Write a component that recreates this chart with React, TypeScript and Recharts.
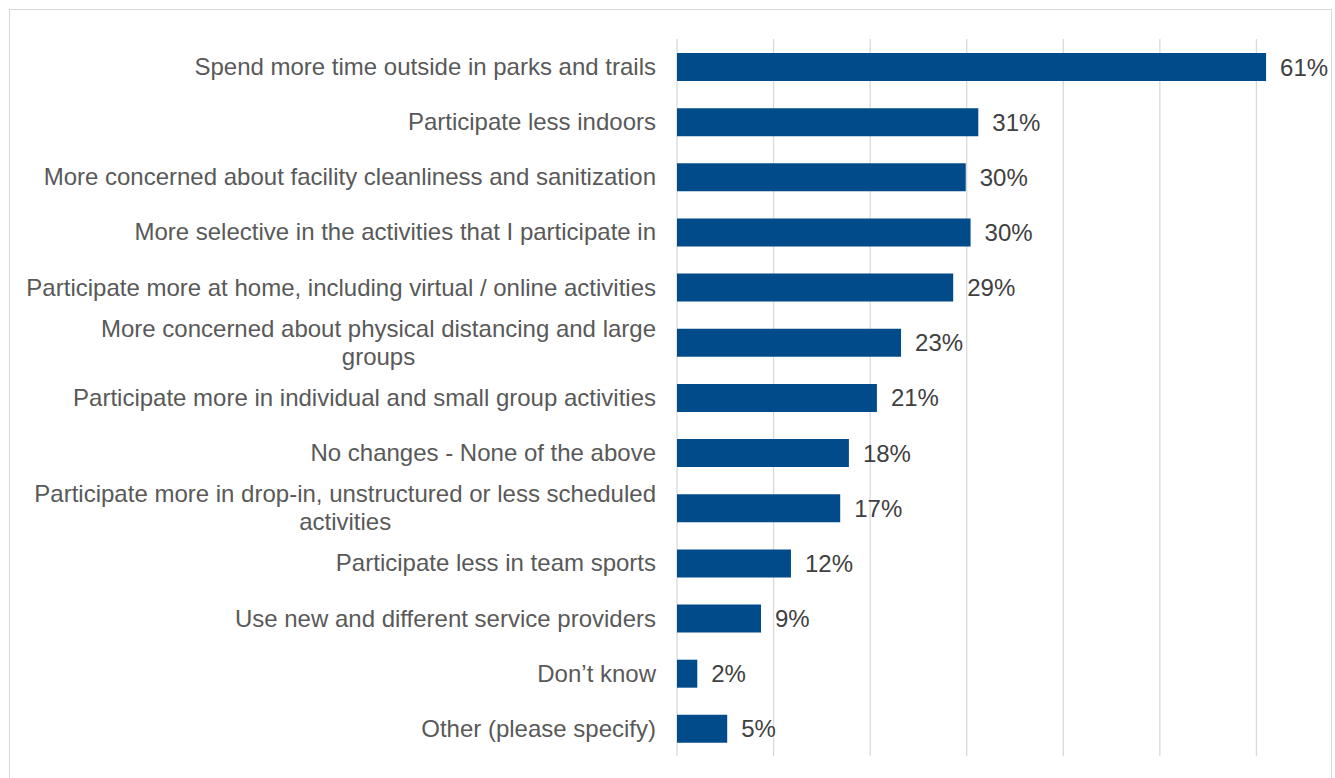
import { BarChart, Bar, XAxis, YAxis, CartesianGrid, LabelList } from 'recharts';

// survey answers, top to bottom
const categories = [
  'Spend more time outside in parks and trails',
  'Participate less indoors',
  'More concerned about facility cleanliness and sanitization',
  'More selective in the activities that I participate in',
  'Participate more at home, including virtual / online activities',
  'More concerned about physical distancing and large\ngroups',
  'Participate more in individual and small group activities',
  'No changes - None of the above',
  'Participate more in drop-in, unstructured or less scheduled\nactivities',
  'Participate less in team sports',
  'Use new and different service providers',
  'Don\u2019t know',
  'Other (please specify)',
];

// share of respondents (%)
const shares = [61.0, 31.2, 29.9, 30.4, 28.6, 23.2, 20.7, 17.8, 16.9, 11.8, 8.7, 2.1, 5.2];

const xTicks = [0, 10, 20, 30, 40, 50, 60, 70];

const FONT = '24px "Liberation Sans", Arial, sans-serif';

const chartData = categories.map((name, i) => ({ name, value: shares[i] }));

let ctx: CanvasRenderingContext2D | null = null;
function textWidth(s: string) {
  if (!ctx) ctx = document.createElement('canvas').getContext('2d');
  if (!ctx) return s.length * 11;
  ctx.font = FONT;
  return ctx.measureText(s).width;
}

// multi-line labels are centred on the widest line, block right-aligned
const CategoryTick = (props: any) => {
  const { x, y, payload } = props;
  const lines: string[] = String(payload.value).split('\n');
  const lineH = 28;
  if (lines.length === 1) {
    return (
      <text x={x} y={y} dy="0.35em" textAnchor="end" fill="#595959"
        style={{ font: FONT }}>
        {lines[0]}
      </text>
    );
  }
  const w = Math.max(...lines.map(textWidth));
  const cx = x - w / 2;
  const startY = y - ((lines.length - 1) * lineH) / 2;
  return (
    <text textAnchor="middle" fill="#595959" style={{ font: FONT }}>
      {lines.map((l, i) => (
        <tspan key={i} x={cx} y={startY + i * lineH} dy="0.35em">{l}</tspan>
      ))}
    </text>
  );
};

export default function App() {
  return (
    <div
      style={{
        position: 'absolute',
        left: 9,
        top: 9,
        width: 1321,
        height: 770,
        border: '1px solid #d9d9d9',
        borderBottom: 'none',
        overflow: 'hidden',
        background: '#fff',
      }}
    >
      <BarChart
        width={1343}
        height={768}
        data={chartData}
        layout="vertical"
        margin={{ top: 29, right: 0, bottom: 22, left: 0 }}
      >
        <CartesianGrid horizontal={false} vertical stroke="#d9d9d9" strokeWidth={1.3} />
        <XAxis type="number" domain={[0, 70]} ticks={xTicks} hide />
        <YAxis
          type="category"
          dataKey="name"
          width={667}
          axisLine={false}
          tickLine={false}
          tickSize={6}
          tickMargin={15}
          interval={0}
          tick={<CategoryTick />}
        />
        <Bar dataKey="value" fill="#014b8b" barSize={28} isAnimationActive={false}>
          <LabelList
            dataKey="value"
            position="right"
            offset={14}
            formatter={(v: any) => `${Math.round(Number(v))}%`}
            style={{ font: FONT, fill: '#404040' }}
          />
        </Bar>
      </BarChart>
    </div>
  );
}
